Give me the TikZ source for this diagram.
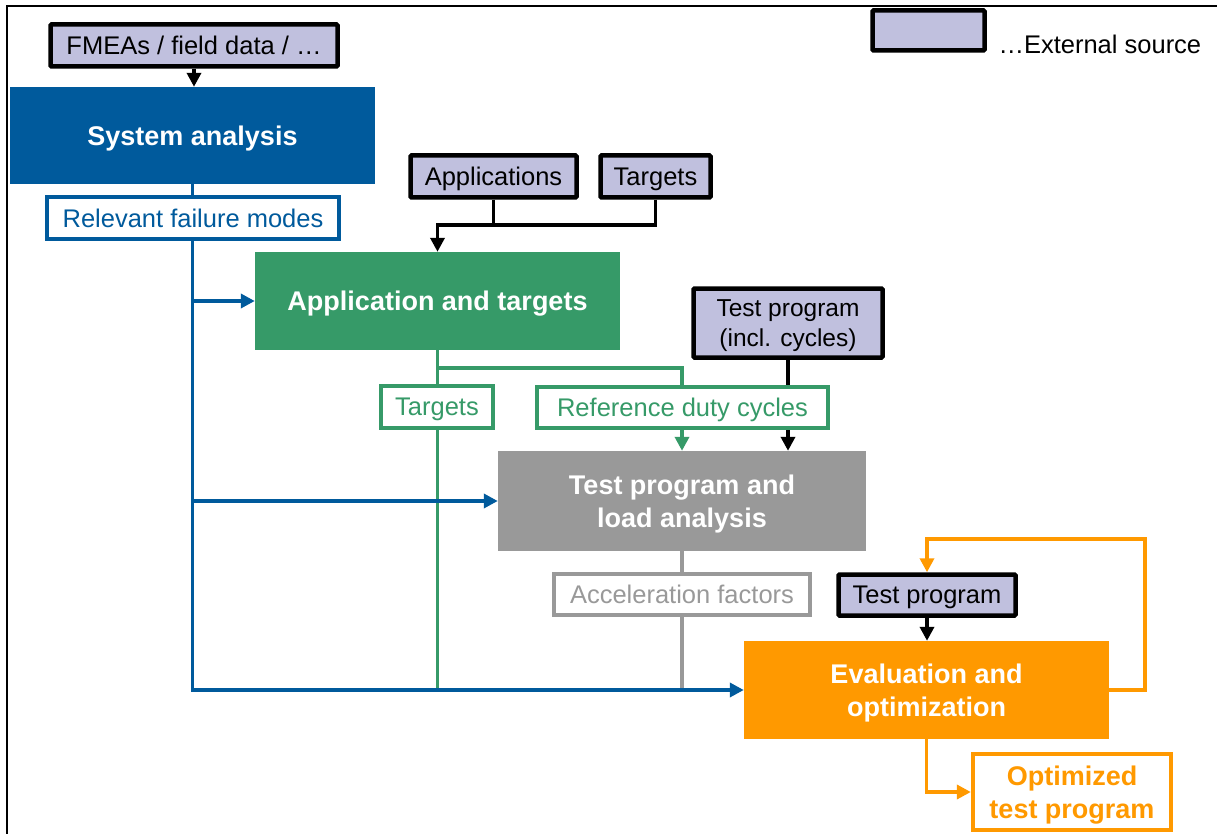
\documentclass[tikz,border=0pt]{standalone}
\usepackage{fontspec}
\setmainfont{Liberation Sans}
\usetikzlibrary{arrows.meta,calc,backgrounds}

\definecolor{sysblue}{RGB}{0,90,156}
\definecolor{appgreen}{RGB}{54,154,104}
\definecolor{loadgrey}{RGB}{153,153,153}
\definecolor{evalorange}{RGB}{255,153,0}
\definecolor{extfill}{RGB}{192,192,222}

\tikzset{
  txt/.style={font=\fontsize{25.5}{30}\selectfont},
  boldtxt/.style={font=\bfseries\fontsize{27}{33}\selectfont},
  extbox/.style={txt, draw=black, line width=4.5pt, fill=extfill, rounded corners=1pt, inner sep=0pt, align=center, text depth=0pt},
  stage/.style={boldtxt, text=white, inner sep=0pt, align=center, text depth=0pt},
  result/.style={txt, draw=#1, text=#1, fill=white, line width=3.8pt, inner sep=0pt, align=center, text depth=0pt},
  link/.style={draw=#1, line width=3.8pt, -{Triangle[length=14pt,width=14pt]}},
  wire/.style={draw=#1, line width=3.8pt},
}

\begin{document}
\begin{tikzpicture}[x=1pt,y=-1pt]
        \useasboundingbox (0,0) rectangle (1217,834);
        % frame
        \draw[line width=1.5pt] (1217,6) -- (7,6) -- (7,834);
        % legend
        \node[extbox, minimum width=112pt, minimum height=40pt] (legbox) at (928.5,30.5) {};
        \node[txt, anchor=base west] (legtxt) at (995,54) {…External source};
        % external sources
        \node[extbox, minimum width=287pt, minimum height=42pt] (fmea) at (194,45.5) {FMEAs / field data / …};
        \node[extbox, minimum width=166pt, minimum height=42pt] (apps) at (493.5,176.5) {Applications};
        \node[extbox, minimum width=110pt, minimum height=42pt] (tgts) at (655.5,176.5) {Targets};
        \node[extbox, minimum width=189pt, minimum height=69pt, font=\fontsize{24.5}{30}\selectfont] (tpc) at (788,323) {Test program\\(incl. cycles)};
        \node[extbox, minimum width=177pt, minimum height=41pt] (tp) at (927,595) {Test program};
        % stages
        \node[stage, fill=sysblue, minimum width=365pt, minimum height=97pt] (sys) at (192.5,135.5) {System analysis};
        \node[stage, fill=appgreen, minimum width=365pt, minimum height=98pt] (app) at (437.5,301) {Application and targets};
        \node[stage, fill=loadgrey, minimum width=368pt, minimum height=100pt] (tpl) at (682,501) {Test program and\\load analysis};
        \node[stage, fill=evalorange, minimum width=365pt, minimum height=98pt] (eval) at (926.5,690) {Evaluation and\\optimization};
        % results
        \node[result=sysblue, minimum width=292pt, minimum height=42.5pt] (rfm) at (193,218) {Relevant failure modes};
        \node[result=appgreen, minimum width=112.5pt, minimum height=42.5pt] (tgt2) at (437,407) {Targets};
        \node[result=appgreen, minimum width=291.5pt, minimum height=41.5pt] (rdc) at (682.5,407.5) {Reference duty cycles};
        \node[result=loadgrey, minimum width=256.5pt, minimum height=41.5pt] (acc) at (682,594.5) {Acceleration factors};
        \node[result=evalorange, boldtxt, minimum width=198.5pt, minimum height=76.5pt] (opt) at (1072,792) {Optimized\\test program};
        % connectors
        \begin{scope}[on background layer]
        \coordinate (ajoin) at ($(apps.south)+(0,25)$);
        \coordinate (gsplit) at ($(app.south)+(0,18)$);
        \draw[link=black] (fmea.south) -- (fmea.south |- sys.north);
        \draw[wire=black] (tgts.south) |- (ajoin);
        \draw[link=black] (apps.south) -- (ajoin) -| (app.north);
        \draw[link=black] (tpc.south) -- (tpc.south |- tpl.north);
        \draw[link=black] (tp.south) -- (tp.south |- eval.north);
        \draw[wire=appgreen] (app.south) -- (app.south |- eval.west);
        \draw[link=appgreen] (gsplit) -| (tpl.north);
        \draw[wire=loadgrey] (tpl.south) -- (tpl.south |- eval.west);
        \draw[link=sysblue] (sys.south) |- (eval.west);
        \draw[link=sysblue] (sys.south |- app.west) -- (app.west);
        \draw[link=sysblue] (sys.south |- tpl.west) -- (tpl.west);
        \draw[link=evalorange] (eval.east) -- ++(36,0) |- ($(tp.north)+(0,-33)$) -- (tp.north);
        \draw[link=evalorange] (eval.south) |- (opt.west);
        \end{scope}
\end{tikzpicture}
\end{document}
